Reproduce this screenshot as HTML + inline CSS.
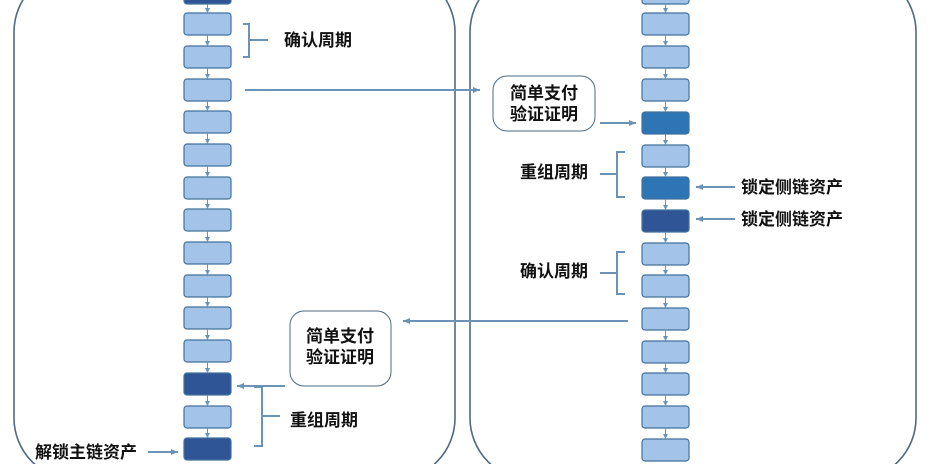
<!DOCTYPE html>
<html><head><meta charset="utf-8"><style>
html,body{margin:0;padding:0;background:#fff;width:932px;height:464px;overflow:hidden}
text{font-family:"Liberation Sans","Noto Sans CJK SC",sans-serif;font-size:17px;font-weight:600;fill:#111}
</style></head><body>
<svg width="932" height="464" viewBox="0 0 932 464" xmlns="http://www.w3.org/2000/svg">
<defs>
<marker id="a" markerWidth="8" markerHeight="8" refX="7" refY="4" orient="auto" markerUnits="userSpaceOnUse"><path d="M0,1 L7,4 L0,7 z" fill="#6b93b8"/></marker>
<marker id="s" markerWidth="6" markerHeight="6" refX="5" refY="3" orient="auto" markerUnits="userSpaceOnUse"><path d="M0,0.5 L5,3 L0,5.5 z" fill="#6b93b8"/></marker>
</defs>
<rect x="14" y="-30" width="441" height="510" rx="62" fill="none" stroke="#4d6a82" stroke-width="1.6"/>
<rect x="470" y="-30" width="446" height="510" rx="62" fill="none" stroke="#4d6a82" stroke-width="1.6"/>
<g stroke="#41719c" stroke-width="1.2">
<rect x="184" y="-18" width="47" height="22" rx="3" fill="#2f5597"/>
<rect x="184" y="13" width="47" height="22" rx="3" fill="#a3c4e8"/>
<rect x="184" y="46" width="47" height="22" rx="3" fill="#a3c4e8"/>
<rect x="184" y="79" width="47" height="22" rx="3" fill="#a3c4e8"/>
<rect x="184" y="111" width="47" height="22" rx="3" fill="#a3c4e8"/>
<rect x="184" y="144" width="47" height="22" rx="3" fill="#a3c4e8"/>
<rect x="184" y="177" width="47" height="22" rx="3" fill="#a3c4e8"/>
<rect x="184" y="209" width="47" height="22" rx="3" fill="#a3c4e8"/>
<rect x="184" y="242" width="47" height="22" rx="3" fill="#a3c4e8"/>
<rect x="184" y="275" width="47" height="22" rx="3" fill="#a3c4e8"/>
<rect x="184" y="307" width="47" height="22" rx="3" fill="#a3c4e8"/>
<rect x="184" y="340" width="47" height="22" rx="3" fill="#a3c4e8"/>
<rect x="184" y="373" width="47" height="22" rx="3" fill="#2f5597"/>
<rect x="184" y="406" width="47" height="22" rx="3" fill="#a3c4e8"/>
<rect x="184" y="438" width="47" height="22" rx="3" fill="#2f5597"/>
<rect x="642" y="-18" width="47" height="22" rx="3" fill="#a3c4e8"/>
<rect x="642" y="13" width="47" height="22" rx="3" fill="#a3c4e8"/>
<rect x="642" y="46" width="47" height="22" rx="3" fill="#a3c4e8"/>
<rect x="642" y="79" width="47" height="22" rx="3" fill="#a3c4e8"/>
<rect x="642" y="112" width="47" height="22" rx="3" fill="#2e75b6"/>
<rect x="642" y="145" width="47" height="22" rx="3" fill="#a3c4e8"/>
<rect x="642" y="177" width="47" height="22" rx="3" fill="#2e75b6"/>
<rect x="642" y="210" width="47" height="22" rx="3" fill="#2f5597"/>
<rect x="642" y="243" width="47" height="22" rx="3" fill="#a3c4e8"/>
<rect x="642" y="275" width="47" height="22" rx="3" fill="#a3c4e8"/>
<rect x="642" y="308" width="47" height="22" rx="3" fill="#a3c4e8"/>
<rect x="642" y="341" width="47" height="22" rx="3" fill="#a3c4e8"/>
<rect x="642" y="373" width="47" height="22" rx="3" fill="#a3c4e8"/>
<rect x="642" y="406" width="47" height="22" rx="3" fill="#a3c4e8"/>
<rect x="642" y="439" width="47" height="22" rx="3" fill="#a3c4e8"/>
</g>
<g stroke="#6b93b8" stroke-width="1" marker-end="url(#s)">
<line x1="207.5" y1="4" x2="207.5" y2="13"/><line x1="207.5" y1="35" x2="207.5" y2="46"/><line x1="207.5" y1="68" x2="207.5" y2="79"/><line x1="207.5" y1="101" x2="207.5" y2="111"/><line x1="207.5" y1="133" x2="207.5" y2="144"/><line x1="207.5" y1="166" x2="207.5" y2="177"/><line x1="207.5" y1="199" x2="207.5" y2="209"/><line x1="207.5" y1="231" x2="207.5" y2="242"/><line x1="207.5" y1="264" x2="207.5" y2="275"/><line x1="207.5" y1="297" x2="207.5" y2="307"/><line x1="207.5" y1="329" x2="207.5" y2="340"/><line x1="207.5" y1="362" x2="207.5" y2="373"/><line x1="207.5" y1="395" x2="207.5" y2="406"/><line x1="207.5" y1="428" x2="207.5" y2="438"/>
<line x1="665.5" y1="4" x2="665.5" y2="13"/><line x1="665.5" y1="35" x2="665.5" y2="46"/><line x1="665.5" y1="68" x2="665.5" y2="79"/><line x1="665.5" y1="101" x2="665.5" y2="112"/><line x1="665.5" y1="134" x2="665.5" y2="145"/><line x1="665.5" y1="167" x2="665.5" y2="177"/><line x1="665.5" y1="199" x2="665.5" y2="210"/><line x1="665.5" y1="232" x2="665.5" y2="243"/><line x1="665.5" y1="265" x2="665.5" y2="275"/><line x1="665.5" y1="297" x2="665.5" y2="308"/><line x1="665.5" y1="330" x2="665.5" y2="341"/><line x1="665.5" y1="363" x2="665.5" y2="373"/><line x1="665.5" y1="395" x2="665.5" y2="406"/><line x1="665.5" y1="428" x2="665.5" y2="439"/>
</g>
<g stroke="#6b93b8" stroke-width="2" fill="none">
<path d="M243,24 H249 V57 H243 M249,40 H268"/>
<path d="M625,152 H617 V197 H625 M617,174 H600"/>
<path d="M625,252 H617 V294 H625 M617,273 H600"/>
<path d="M254,387 H262 V446 H254 M262,416 H280"/>
<line x1="245" y1="90" x2="480" y2="90" marker-end="url(#a)"/>
<line x1="600" y1="123" x2="636" y2="123" marker-end="url(#a)"/>
<line x1="735" y1="187" x2="696" y2="187" marker-end="url(#a)"/>
<line x1="735" y1="219" x2="696" y2="219" marker-end="url(#a)"/>
<line x1="628" y1="321" x2="403" y2="321" marker-end="url(#a)"/>
<line x1="285" y1="386" x2="237" y2="386" marker-end="url(#a)"/>
<line x1="148" y1="452" x2="178" y2="452" marker-end="url(#a)"/>
</g>
<rect x="493" y="76" width="102" height="55" rx="14" fill="#fff" stroke="#4d6a82" stroke-width="1"/>
<rect x="290" y="311" width="101" height="75" rx="14" fill="#fff" stroke="#4d6a82" stroke-width="1"/>
<text x="284" y="46">确认周期</text>
<text x="544" y="99" text-anchor="middle">简单支付</text>
<text x="544" y="120" text-anchor="middle">验证证明</text>
<text x="520" y="178">重组周期</text>
<text x="741" y="193">锁定侧链资产</text>
<text x="741" y="225">锁定侧链资产</text>
<text x="520" y="277">确认周期</text>
<text x="340" y="342" text-anchor="middle">简单支付</text>
<text x="340" y="363" text-anchor="middle">验证证明</text>
<text x="290" y="426">重组周期</text>
<text x="35" y="458">解锁主链资产</text>
</svg>
</body></html>
